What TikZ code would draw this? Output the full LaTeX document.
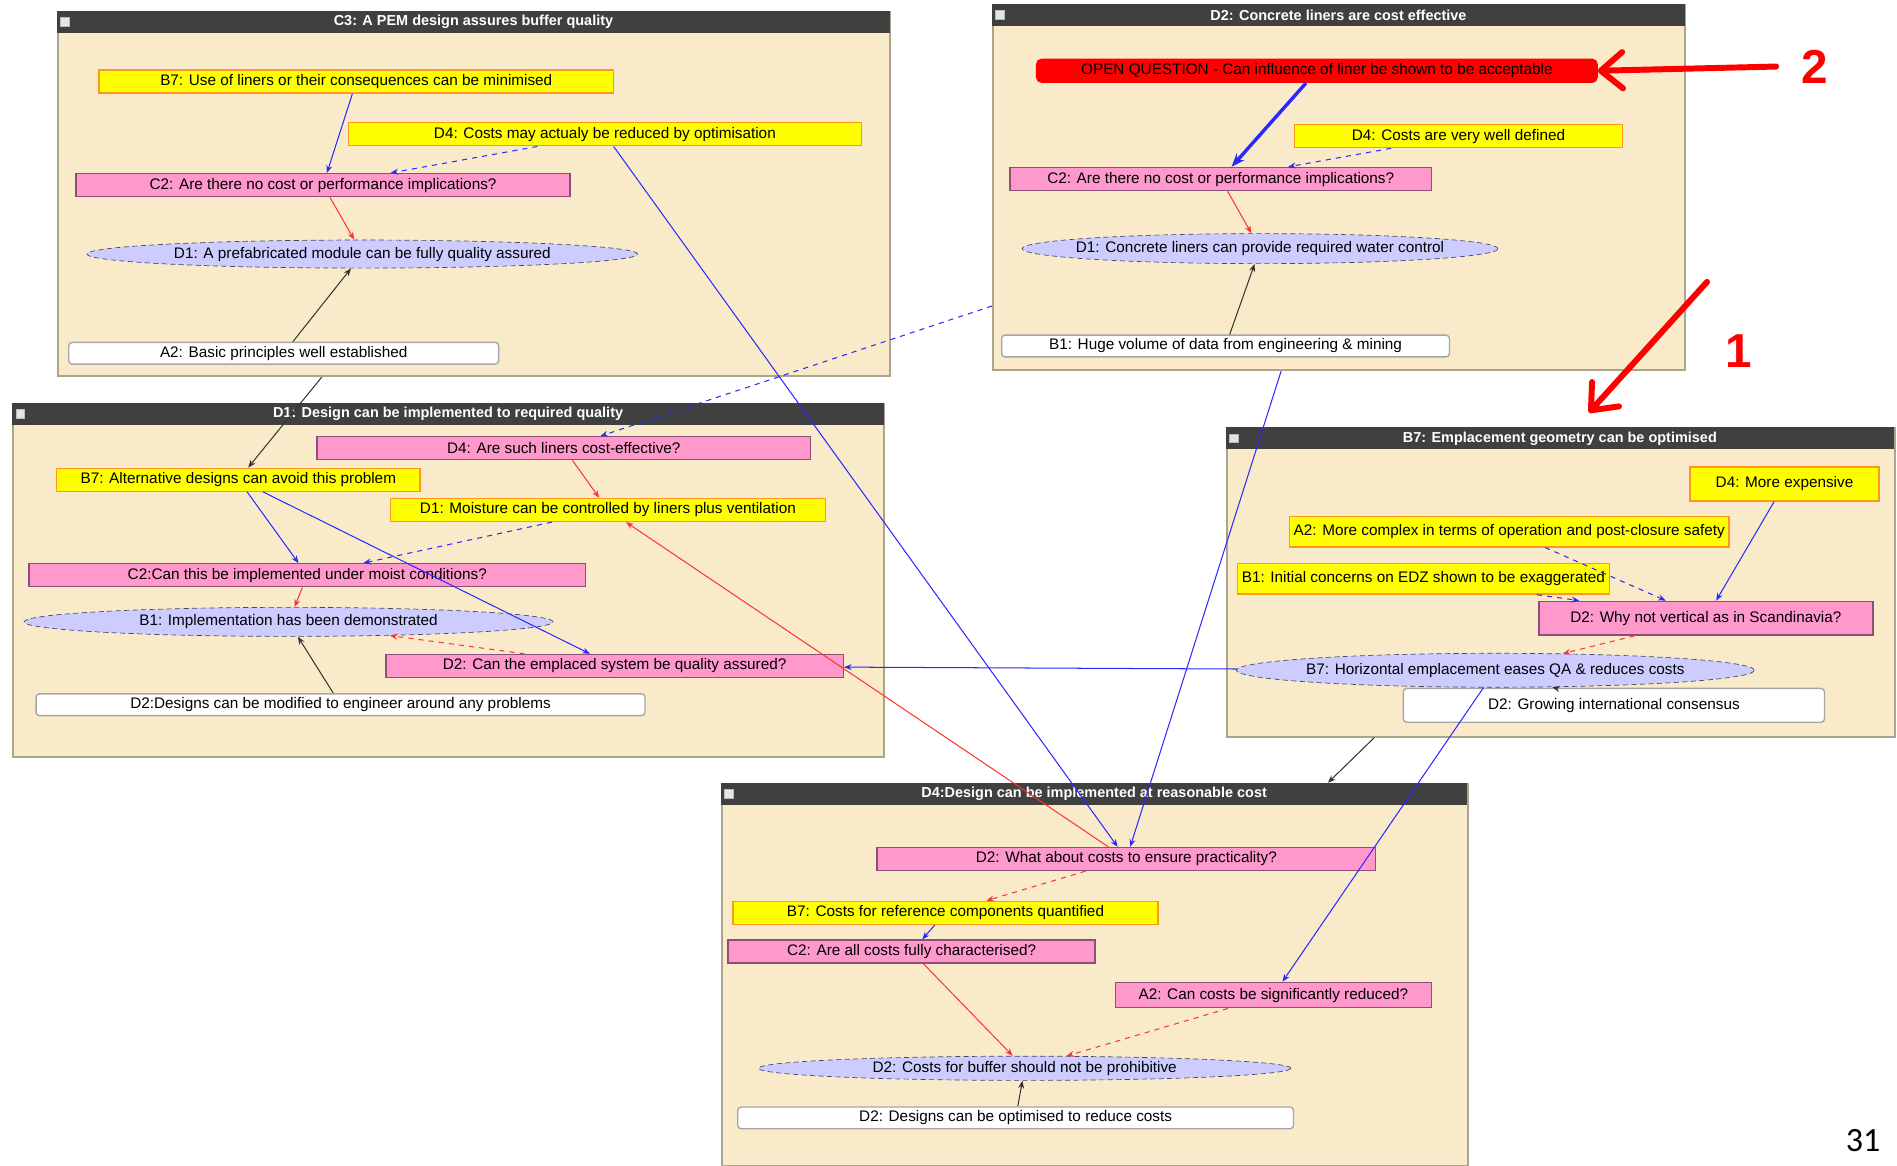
\documentclass[tikz,border=0pt]{standalone}
\usepackage{fontspec}
\setmainfont{Liberation Sans}
\newfontfamily\pagefont{Carlito}
\usepackage{tikz}
\usetikzlibrary{shapes.geometric, arrows.meta, positioning, calc}
\definecolor{hdrgray}{RGB}{64, 64, 64}
\definecolor{panelbg}{RGB}{249, 235, 201}
\definecolor{panelrim}{RGB}{172, 164, 140}
\definecolor{ansyellow}{RGB}{255, 255, 0}
\definecolor{ansorange}{RGB}{255, 150, 30}
\definecolor{qpink}{RGB}{255, 153, 204}
\definecolor{qrim}{RGB}{140, 80, 120}
\definecolor{poslilac}{RGB}{204, 204, 255}
\definecolor{posrim}{RGB}{70, 70, 100}
\definecolor{linkblue}{RGB}{40, 40, 255}
\definecolor{linkred}{RGB}{255, 50, 50}
\newcommand{\mapfont}{\fontsize{9}{10}\selectfont}

\begin{document}
\begin{tikzpicture}[x=0.025cm, y=-0.025cm,
				panel/.style={rectangle, anchor=north west, fill=panelbg, draw=panelrim, line width=1.2pt, inner sep=0pt},
				head/.style={rectangle, anchor=north west, fill=hdrgray, text=white, inner sep=0pt, minimum height=0.45cm, font=\fontsize{8.5}{9}\selectfont\bfseries},
				iconbox/.style={rectangle, anchor=west, fill=gray!20, draw=gray!55, minimum size=0.18cm, inner sep=0pt},
				ybox/.style={rectangle, fill=ansyellow, draw=ansorange, thick, minimum height=0.475cm, inner sep=1pt, font=\mapfont},
				pbox/.style={rectangle, fill=qpink, draw=qrim, thick, minimum height=0.475cm, inner sep=1pt, font=\mapfont},
				wbox/.style={rectangle, fill=white, draw=gray!70, thick, rounded corners=2pt, minimum height=0.45cm, inner sep=1pt, font=\mapfont},
				qbox/.style={rectangle, fill=red, draw=red, thick, rounded corners=3pt, minimum height=0.475cm, inner sep=1pt, font=\mapfont},
				ebox/.style={ellipse, fill=poslilac, draw=posrim, densely dashed, inner xsep=-0.4cm, inner ysep=0pt, font=\mapfont},
				blink/.style={-{Stealth[length=4.5pt, width=3.5pt]}, draw=linkblue, line width=0.6pt},
				rlink/.style={-{Stealth[length=4.5pt, width=3.5pt]}, draw=linkred, line width=0.6pt},
				klink/.style={-{Stealth[length=4.5pt, width=3.5pt]}, draw=black!80, line width=0.6pt},
				callout/.style={-{Straight Barb[length=0.45cm, width=0.75cm, round]}, draw=red, line width=3.5pt, line cap=round},
				numlabel/.style={text=red, font=\fontsize{28}{30}\selectfont\bfseries},
				pagenum/.style={font=\pagefont\fontsize{20}{22}\selectfont}
				]
				\useasboundingbox[fill=white] (0,0) rectangle (1568,963);
				
				% Map C3: PEM design
				\node[panel, minimum width=17.2cm, minimum height=7.525cm] (c3panel) at (47,9) {};
				\node[head, minimum width=17.2cm] (c3head) at (47,9) {C3: A PEM design assures buffer quality};
				\node[iconbox] at ([xshift=2pt]c3head.west) {};
				\node[ybox, minimum width=10.63cm] (c3b7) at (294.5,67.5) {B7: Use of liners or their consequences can be minimised};
				\node[ybox, minimum width=10.6cm] (c3d4) at (500,111) {D4: Costs may actualy be reduced by optimisation};
				\node[pbox, minimum width=10.2cm] (c3c2) at (267,153) {C2: Are there no cost or performance implications?};
				\node[ebox, minimum width=11.38cm, minimum height=0.58cm] (c3d1) at (299.5,210) {D1: A prefabricated module can be fully quality assured};
				\node[wbox, minimum width=8.88cm] (c3a2) at (234.5,292) {A2: Basic principles well established};
				
				% Map D2: concrete liners
				\node[panel, minimum width=14.3cm, minimum height=7.55cm] (d2panel) at (820,3) {};
				\node[head, minimum width=14.3cm] (d2head) at (820,3) {D2: Concrete liners are cost effective};
				\node[iconbox] at ([xshift=2pt]d2head.west) {};
				\node[qbox, minimum width=11.58cm] (d2open) at (1088.5,58.5) {OPEN QUESTION - Can influence of liner be shown to be acceptable};
				\node[ybox, minimum width=6.78cm] (d2d4) at (1205.5,112.5) {D4: Costs are very well defined};
				\node[pbox, minimum width=8.7cm] (d2c2) at (1009,148) {C2: Are there no cost or performance implications?};
				\node[ebox, minimum width=9.83cm, minimum height=0.62cm] (d2d1) at (1041.5,205.5) {D1: Concrete liners can provide required water control};
				\node[wbox, minimum width=9.25cm] (d2b1) at (1013,286) {B1: Huge volume of data from engineering \& mining};
				
				% Map D1: required quality
				\node[panel, minimum width=18.0cm, minimum height=7.3cm] (d1panel) at (10,333) {};
				\node[head, minimum width=18.0cm] (d1head) at (10,333) {D1: Design can be implemented to required quality};
				\node[iconbox] at ([xshift=2pt]d1head.west) {};
				\node[pbox, minimum width=10.2cm] (d1d4) at (466,370.5) {D4: Are such liners cost-effective?};
				\node[ybox, minimum width=7.5cm] (d1b7) at (197,396.5) {B7: Alternative designs can avoid this problem};
				\node[ybox, minimum width=8.98cm] (d1d1) at (502.5,421.5) {D1: Moisture can be controlled by liners plus ventilation};
				\node[pbox, minimum width=11.5cm] (d1c2) at (254,475.5) {C2:Can this be implemented under moist conditions?};
				\node[ebox, minimum width=10.93cm, minimum height=0.6cm] (d1b1) at (238.5,514) {B1: Implementation has been demonstrated};
				\node[pbox, minimum width=9.45cm] (d1d2) at (508,550.5) {D2: Can the emplaced system be quality assured?};
				\node[wbox, minimum width=12.58cm] (d1d2w) at (281.5,582.5) {D2:Designs can be modified to engineer around any problems};
				
				% Map B7: emplacement geometry
				\node[panel, minimum width=13.8cm, minimum height=6.375cm] (b7panel) at (1013,353) {};
				\node[head, minimum width=13.8cm] (b7head) at (1013,353) {B7: Emplacement geometry can be optimised};
				\node[iconbox] at ([xshift=2pt]b7head.west) {};
				\node[ybox, minimum width=3.9cm, minimum height=0.7cm] (b7d4) at (1475,400) {D4: More expensive};
				\node[ybox, minimum width=9.08cm, minimum height=0.625cm] (b7a2) at (1247.5,439.5) {A2: More complex in terms of operation and post-closure safety};
				\node[ybox, minimum width=7.68cm, minimum height=0.625cm] (b7b1) at (1176.5,478.5) {B1: Initial concerns on EDZ shown to be exaggerated};
				\node[pbox, minimum width=6.9cm, minimum height=0.7cm] (b7d2) at (1410,511) {D2: Why not vertical as in Scandinavia?};
				\node[wbox, minimum width=8.7cm, minimum height=0.7cm] (b7d2w) at (1334,583) {D2: Growing international consensus};
				\node[ebox, minimum width=10.7cm, minimum height=0.7cm] (b7b7) at (1236,554) {B7: Horizontal emplacement eases QA \& reduces costs};
				
				% Map D4: reasonable cost
				\node[panel, minimum width=15.4cm, minimum height=7.9cm] (d4panel) at (596,647) {};
				\node[head, minimum width=15.4cm] (d4head) at (596,647) {D4:Design can be implemented at reasonable cost};
				\node[iconbox] at ([xshift=2pt]d4head.west) {};
				\node[pbox, minimum width=10.3cm] (d4d2) at (931,710) {D2: What about costs to ensure practicality?};
				\node[ybox, minimum width=8.78cm] (d4b7) at (781.5,754.5) {B7: Costs for reference components quantified};
				\node[pbox, minimum width=7.58cm] (d4c2) at (753.5,786.5) {C2: Are all costs fully characterised?};
				\node[pbox, minimum width=6.53cm, minimum height=0.525cm] (d4a2) at (1052.5,822.5) {A2: Can costs be significantly reduced?};
				\node[ebox, minimum width=11cm, minimum height=0.5cm] (d4d2e) at (847,883) {D2: Costs for buffer should not be prohibitive};
				\node[wbox, minimum width=11.48cm] (d4d2w) at (839.5,924) {D2: Designs can be optimised to reduce costs};
				
				% Links inside the maps
				\draw[blink] (c3b7) -- (c3c2);
				\draw[blink, dashed] (c3d4) -- (c3c2);
				\draw[rlink] (c3c2) -- (c3d1);
				\draw[klink] (c3a2) -- (c3d1);
				
				\draw[blink, line width=2pt, -{Stealth[length=8pt, width=6pt]}] (d2open) -- (d2c2);
				\draw[blink, dashed] (d2d4) -- (d2c2);
				\draw[rlink] (d2c2) -- (d2d1);
				\draw[klink] (d2b1) -- (d2d1);
				
				\draw[rlink] (d1d4) -- (d1d1);
				\draw[blink] (d1b7) -- (d1c2);
				\draw[blink] (d1b7) -- (d1d2);
				\draw[blink, dashed] (d1d1) -- (d1c2);
				\draw[rlink] (d1c2) -- (d1b1);
				\draw[rlink, dashed] (d1d2) -- (d1b1);
				\draw[klink] (d1d2w) -- (d1b1);
				
				\draw[blink] (b7d4) -- (b7d2);
				\draw[blink, dashed] (b7a2) -- (b7d2);
				\draw[blink, dashed] (b7b1) -- (b7d2);
				\draw[rlink, dashed] (b7d2) -- (b7b7);
				\draw[klink] (b7d2w) -- (b7b7);
				
				\draw[rlink, dashed] (d4d2) -- (d4b7);
				\draw[blink] (d4b7) -- (d4c2);
				\draw[rlink] (d4c2) -- (d4d2e);
				\draw[rlink, dashed] (d4a2) -- (d4d2e);
				\draw[klink] (d4d2w) -- (d4d2e);
				
				% Links between the maps
				\draw[blink] (c3d4) -- (d4d2);
				\draw[blink] ([xshift=-1.2cm]d2panel.south) -- (d4d2);
				\draw[blink, dashed] ([yshift=-2.45cm]d2panel.west) -- (d1d4);
				\draw[klink] ([xshift=-3.15cm]c3panel.south) -- (d1b7);
				\draw[rlink] (d4d2) -- (d1d1);
				\draw[blink] (b7b7) -- (d1d2);
				\draw[blink] (b7b7) -- (d4a2);
				\draw[klink] ([xshift=-3.85cm]b7panel.south) -- ([xshift=4.83cm]d4head.north);
				
				% Callouts
				\node[numlabel] (num2) at (1500,55) {2};
				\node[numlabel] (num1) at (1437,290) {1};
				\coordinate (tail1) at (1411,233);
				\draw[callout] ([xshift=-0.4cm]num2.west) -- (d2open.east);
				\draw[callout] (tail1) -- ([xshift=0.6cm, yshift=0.3cm]b7head.north);
				
				\node[pagenum] (pageno) at (1540,943) {31};
			\end{tikzpicture}
\end{document}
